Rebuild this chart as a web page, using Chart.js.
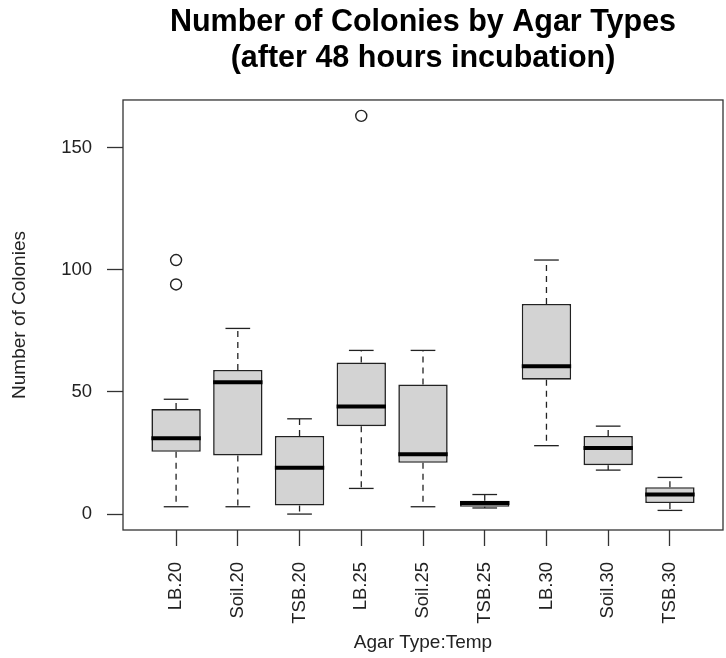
<!DOCTYPE html>
<html>
<head>
<meta charset="utf-8">
<script src="https://cdn.jsdelivr.net/npm/chart.js@4.4.1/dist/chart.umd.min.js"></script>
<style>
  html, body { margin: 0; padding: 0; background: #fff; }
  #wrap { width: 726px; height: 658px; position: relative; }
</style>
</head>
<body>
<div id="wrap"><canvas id="chart"></canvas></div>
<script>
/* ---------- DATA ---------- */
const categories  = ['LB.20', 'Soil.20', 'TSB.20', 'LB.25', 'Soil.25', 'TSB.25', 'LB.30', 'Soil.30', 'TSB.30'];
const whiskerLow  = [3, 3, 0, 10.5, 3, 2.5, 28, 18, 1.5];
const q1          = [25.5, 24, 3.5, 36, 21, 3, 55, 20, 4.5];
const median      = [31, 54, 19, 44, 24.5, 4.5, 60.5, 27, 8];
const q3          = [43, 59, 32, 62, 53, 5.5, 86, 32, 11];
const whiskerHigh = [47, 76, 39, 67, 67, 8, 104, 36, 15];
const outlierCats   = ['LB.20', 'LB.20', 'LB.25'];
const outlierValues = [94, 104, 163];
const yTicks = [0, 50, 100, 150];

const FONT = "'Liberation Sans', Arial, Helvetica, sans-serif";
const INK = '#222';

/* ---------- whiskers, medians and frame ---------- */
const boxplotParts = {
  id: 'boxplotParts',
  afterDatasetsDraw(chart) {
    const { ctx, chartArea, scales: { y } } = chart;
    const bars = chart.getDatasetMeta(0).data;
    const seg = (x1, y1, x2, y2) => { ctx.beginPath(); ctx.moveTo(x1, y1); ctx.lineTo(x2, y2); ctx.stroke(); };
    ctx.save();
    ctx.strokeStyle = INK;
    bars.forEach((bar, i) => {
      const half = bar.width / 2;
      const yLo = y.getPixelForValue(whiskerLow[i]);
      const yHi = y.getPixelForValue(whiskerHigh[i]);
      const yQ1 = y.getPixelForValue(q1[i]);
      const yQ3 = y.getPixelForValue(q3[i]);
      const yMed = y.getPixelForValue(median[i]);
      // dashed whiskers
      ctx.lineWidth = 1.3;
      ctx.setLineDash([6, 5]);
      seg(bar.x, yQ3, bar.x, yHi);
      seg(bar.x, yQ1, bar.x, yLo);
      // caps
      ctx.setLineDash([]);
      seg(bar.x - half / 2, yHi, bar.x + half / 2, yHi);
      seg(bar.x - half / 2, yLo, bar.x + half / 2, yLo);
      // median
      ctx.lineWidth = 4;
      ctx.strokeStyle = '#000';
      seg(bar.x - half, yMed, bar.x + half, yMed);
      ctx.strokeStyle = INK;
    });
    // plot frame
    ctx.lineWidth = 1.3;
    ctx.strokeStyle = '#333';
    ctx.strokeRect(chartArea.left, chartArea.top, chartArea.right - chartArea.left, chartArea.bottom - chartArea.top);
    ctx.restore();
  }
};

new Chart(document.getElementById('chart').getContext('2d'), {
  type: 'bar',
  data: {
    datasets: [{
      label: 'IQR',
      data: categories.map((c, i) => ({ x: i + 1, y: [q1[i], q3[i]] })),
      backgroundColor: '#d3d3d3',
      borderColor: INK,
      borderWidth: 1.6,
      borderSkipped: false,
      barPercentage: 0.8,
      categoryPercentage: 1
    }, {
      type: 'line',
      label: 'Outliers',
      data: outlierCats.map((c, i) => ({ x: categories.indexOf(c) + 1, y: outlierValues[i] })),
      showLine: false,
      pointRadius: 5.5,
      pointBackgroundColor: '#fff',
      pointBorderColor: INK,
      pointBorderWidth: 1.4
    }]
  },
  options: {
    responsive: true,
    maintainAspectRatio: false,
    animation: false,
    layout: { autoPadding: false, padding: { left: 0, right: 3, top: 0, bottom: 0 } },
    plugins: {
      legend: { display: false },
      tooltip: { enabled: false },
      title: {
        display: true,
        fullSize: false,
        text: ['Number of Colonies by Agar Types', '(after 48 hours incubation)'],
        color: '#000',
        font: { family: FONT, size: 30.5, weight: 'bold', lineHeight: 1.18 },
        padding: { top: 5, bottom: 23 }
      }
    },
    scales: {
      x: {
        type: 'linear',
        offset: false,
        min: 0.14,
        max: 9.86,
        afterBuildTicks: s => { s.ticks = categories.map((c, i) => ({ value: i + 1 })); },
        afterFit: s => { s.height = 128; s.paddingLeft = 0; s.paddingRight = 0; },
        ticks: {
          autoSkip: false,
          minRotation: 90,
          maxRotation: 90,
          padding: 16,
          color: INK,
          font: { family: FONT, size: 18.5 },
          callback: v => categories[v - 1]
        },
        grid: { display: true, offset: false, drawOnChartArea: false, drawTicks: true, tickLength: 16, tickColor: '#333', tickWidth: 1.3 },
        border: { display: false },
        title: {
          display: true,
          text: 'Agar Type:Temp',
          color: INK,
          font: { family: FONT, size: 19 },
          padding: { top: 0, bottom: 4 }
        }
      },
      y: {
        min: -6.52,
        max: 169.52,
        afterBuildTicks: s => { s.ticks = yTicks.map(v => ({ value: v })); },
        afterFit: s => { s.width = 123; },
        ticks: {
          padding: 15,
          color: INK,
          font: { family: FONT, size: 18.5 }
        },
        grid: { display: true, drawOnChartArea: false, drawTicks: true, tickLength: 16, tickColor: '#333', tickWidth: 1.3 },
        border: { display: false },
        title: {
          display: true,
          text: 'Number of Colonies',
          color: INK,
          font: { family: FONT, size: 19 },
          padding: { top: 8, bottom: 0 }
        }
      }
    }
  },
  plugins: [boxplotParts]
});
</script>
</body>
</html>
